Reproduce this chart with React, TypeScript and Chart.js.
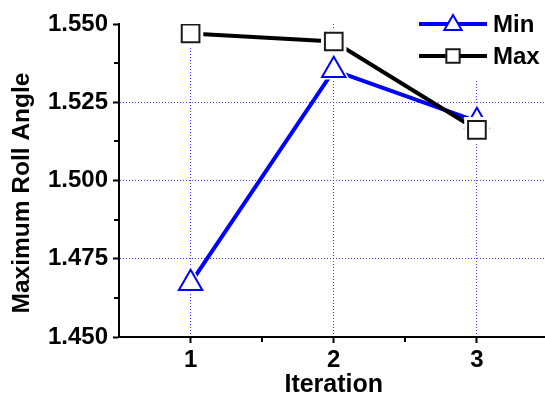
import React, { useEffect, useRef } from 'react';
import { Chart, registerables } from 'chart.js';

Chart.register(...registerables);

// ---- data ----
const iterations = [1, 2, 3];
const minValues = [1.4672, 1.5352, 1.5189];
const maxValues = [1.547, 1.5444, 1.5162];
const seriesLabels = ['Min', 'Max'];

// ---- axis ticks ----
const xTicks = [1, 2, 3];
const xMinorTicks = [1.5, 2.5];
const yTicks = [1.45, 1.475, 1.5, 1.525, 1.55];
const yMinorTicks = [1.4625, 1.4875, 1.5125, 1.5375];
const xTitle = 'Iteration';
const yTitle = 'Maximum Roll Angle';

const FONT = "'Liberation Sans', Arial, Helvetica, sans-serif";
const BLUE = '#0000ff';
const GRID = 'rgba(30,30,255,0.85)';

const seriesDefs = [
  { label: seriesLabels[0], values: minValues, color: BLUE, markerBorder: BLUE, style: 'triangle', radius: 13.5, halo: 18.5, base: 4, legendR: 10 },
  { label: seriesLabels[1], values: maxValues, color: '#000', markerBorder: '#1a1a1a', style: 'rect', radius: 12.5, halo: 18, base: 1, legendR: 9.4 },
];

function buildDatasets() {
  const out: any[] = [];
  seriesDefs.forEach((s) => {
    const data = iterations.map((x, i) => ({ x, y: s.values[i] }));
    out.push({
      label: s.label,
      data,
      showLine: true,
      borderColor: s.color,
      borderWidth: 4,
      pointRadius: 0,
      tension: 0,
      fill: false,
      order: s.base + 2,
    });
    out.push({
      label: s.label + ' halo',
      data,
      showLine: false,
      pointStyle: s.style,
      pointRadius: s.halo,
      pointBackgroundColor: '#ffffff',
      pointBorderColor: 'rgba(0,0,0,0)',
      pointBorderWidth: 0,
      order: s.base + 1,
    });
    out.push({
      label: s.label + ' points',
      data,
      showLine: false,
      pointStyle: s.style,
      pointRadius: s.radius,
      pointBackgroundColor: '#ffffff',
      pointBorderColor: s.markerBorder,
      pointBorderWidth: 2,
      order: s.base,
    });
  });
  return out;
}

const LEGEND_BOX = { x: 412, y: 0, w: 160, h: 79 };

const decorPlugin = {
  id: 'decor',
  beforeDatasetsDraw(chart: any) {
    const ctx = chart.ctx;
    ctx.save();
    ctx.fillStyle = '#ffffff';
    ctx.fillRect(LEGEND_BOX.x, LEGEND_BOX.y, LEGEND_BOX.w, LEGEND_BOX.h);
    ctx.restore();
  },
  afterDraw(chart: any) {
    const ctx = chart.ctx;
    const { left, bottom } = chart.chartArea;
    const xs = chart.scales.x;
    const ys = chart.scales.y;
    ctx.save();
    // minor ticks
    ctx.strokeStyle = '#000';
    ctx.lineWidth = 2;
    yMinorTicks.forEach((v) => {
      const py = Math.round(ys.getPixelForValue(v));
      ctx.beginPath();
      ctx.moveTo(left - 5, py);
      ctx.lineTo(left, py);
      ctx.stroke();
    });
    xMinorTicks.forEach((v) => {
      const px = Math.round(xs.getPixelForValue(v));
      ctx.beginPath();
      ctx.moveTo(px, bottom);
      ctx.lineTo(px, bottom + 5);
      ctx.stroke();
    });
    // y title
    ctx.save();
    ctx.translate(22, 193);
    ctx.rotate(-Math.PI / 2);
    ctx.font = `bold 24.5px ${FONT}`;
    ctx.fillStyle = '#000';
    ctx.textAlign = 'center';
    ctx.textBaseline = 'middle';
    ctx.fillText(yTitle, 0, 0);
    ctx.restore();
    // legend
    seriesDefs.forEach((s, i) => {
      const cy = 24 + i * 32;
      ctx.strokeStyle = s.color;
      ctx.lineWidth = 4;
      ctx.beginPath();
      ctx.moveTo(419, cy);
      ctx.lineTo(487, cy);
      ctx.stroke();
      const cx = 453;
      ctx.fillStyle = '#fff';
      ctx.strokeStyle = s.markerBorder;
      ctx.lineWidth = 2;
      ctx.beginPath();
      if (s.style === 'triangle') {
        const r = s.legendR;
        const my = cy + 1;
        ctx.moveTo(cx, my - r);
        ctx.lineTo(cx + r * Math.sin(Math.PI * 2 / 3), my + r / 2);
        ctx.lineTo(cx - r * Math.sin(Math.PI * 2 / 3), my + r / 2);
        ctx.closePath();
      } else {
        const h = s.legendR * Math.SQRT1_2;
        ctx.rect(cx - h, cy - h, 2 * h, 2 * h);
      }
      ctx.fill();
      ctx.stroke();
      ctx.fillStyle = '#000';
      ctx.font = `bold 24px ${FONT}`;
      ctx.textAlign = 'left';
      ctx.textBaseline = 'middle';
      ctx.fillText(s.label, 493, cy + 1);
    });
    ctx.restore();
  },
};

const isEdge = (v: any) =>
  typeof v === 'number' && (Math.abs(v - yTicks[0]) < 1e-9 || Math.abs(v - yTicks[yTicks.length - 1]) < 1e-9);

export default function App() {
  const ref = useRef<HTMLCanvasElement>(null);
  useEffect(() => {
    if (!ref.current) return;
    const tickFont = { family: FONT, size: 24, weight: 'bold' as const };
    const chart = new Chart(ref.current, {
      type: 'scatter',
      data: { datasets: buildDatasets() },
      options: {
        animation: false,
        responsive: false,
        devicePixelRatio: 1,
        layout: { padding: { top: 24, right: 0, bottom: 0, left: 0 } },
        plugins: { legend: { display: false }, tooltip: { enabled: false } },
        scales: {
          x: {
            type: 'linear',
            min: 0.5,
            max: 3.5,
            afterBuildTicks: (s: any) => {
              s.ticks = xTicks.map((v) => ({ value: v }));
            },
            afterFit: (s: any) => {
              s.height = 65;
            },
            ticks: {
              font: tickFont,
              color: '#000',
              padding: 3,
              maxRotation: 0,
              autoSkip: false,
              callback: (v: any) => String(v),
            },
            grid: { color: GRID, lineWidth: 1, tickLength: 6, tickColor: '#000', tickWidth: 2 },
            border: { display: true, color: '#000', width: 2, dash: [1, 2] },
            title: {
              display: true,
              text: xTitle,
              font: { family: FONT, size: 25, weight: 'bold' },
              color: '#000',
              padding: { top: 0, bottom: 2 },
            },
          },
          y: {
            type: 'linear',
            min: 1.45,
            max: 1.55,
            afterBuildTicks: (s: any) => {
              s.ticks = yTicks.map((v) => ({ value: v }));
            },
            afterFit: (s: any) => {
              s.width = 119;
            },
            ticks: {
              font: tickFont,
              color: '#000',
              padding: 5,
              callback: (v: any) => Number(v).toFixed(3),
            },
            grid: {
              color: (c: any) => (c.tick && isEdge(c.tick.value) ? 'rgba(0,0,0,0)' : GRID),
              lineWidth: 1,
              tickLength: 6,
              tickColor: '#000',
              tickWidth: 2,
            },
            border: { display: true, color: '#000', width: 2, dash: [1, 2] },
          },
        },
      },
      plugins: [decorPlugin],
    });
    return () => chart.destroy();
  }, []);
  return (
    <div style={{ position: 'absolute', left: 0, top: 0, width: 545, height: 402, overflow: 'hidden', background: '#fff' }}>
      <canvas ref={ref} width={567} height={402} style={{ display: 'block' }} />
    </div>
  );
}
